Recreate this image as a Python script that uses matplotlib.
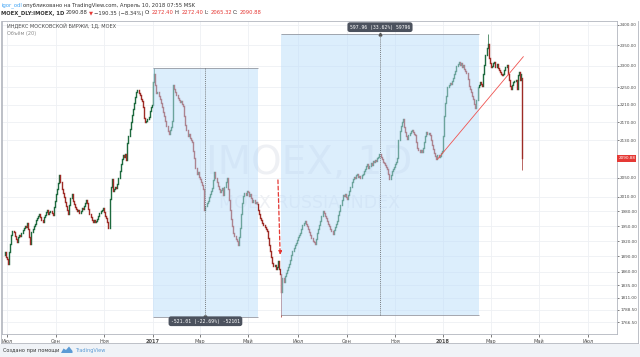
import numpy as np
import matplotlib
matplotlib.use("Agg")
import matplotlib.pyplot as plt
from matplotlib.patches import Rectangle, Polygon
from matplotlib.lines import Line2D
from matplotlib.transforms import blended_transform_factory

# IMOEX daily closes, first bar 28.06.2016, last bar 10.04.2018 (weekdays)
start = "2016-06-28"
closes = [
    1893, 1898, 1889, 1885, 1876, 1898, 1915, 1932, 1941, 1938,
    1930, 1925, 1919, 1928, 1933, 1930, 1937, 1942, 1946, 1951,
    1949, 1957, 1944, 1928, 1914, 1938, 1945, 1950, 1955, 1962,
    1966, 1971, 1975, 1968, 1963, 1959, 1968, 1973, 1979, 1982,
    1974, 1978, 1981, 1976, 1973, 1988, 2001, 2015, 2027, 2038,
    2055, 2040, 2027, 2018, 2010, 2000, 1991, 1982, 1975, 1992,
    2008, 2016, 2002, 1995, 1988, 1984, 1980, 1983, 1976, 1980,
    1986, 1985, 1990, 1996, 2003, 1998, 1985, 1975, 1968, 1963,
    1959, 1962, 1958, 1961, 1965, 1971, 1976, 1980, 1983, 1986,
    1978, 1970, 1966, 1958, 1946, 2005, 2030, 2047, 2022, 2026,
    2031, 2028, 2037, 2050, 2064, 2078, 2090, 2098, 2094, 2101,
    2087, 2125, 2140, 2156, 2170, 2186, 2200, 2214, 2228, 2238,
    2244, 2236, 2231, 2224, 2218, 2205, 2180, 2170, 2174, 2177,
    2183, 2195, 2204, 2210, 2262, 2280, 2255, 2236, 2240, 2229,
    2222, 2213, 2205, 2193, 2184, 2172, 2163, 2150, 2144, 2152,
    2160, 2172, 2255, 2246, 2238, 2231, 2226, 2220, 2215, 2218,
    2212, 2208, 2185, 2165, 2152, 2140, 2145, 2136, 2131, 2126,
    2108, 2091, 2070, 2058, 2062, 2052, 2048, 2040, 2035, 2027,
    1983, 1990, 1996, 2002, 2010, 2016, 2022, 2029, 2045, 2062,
    2050, 2041, 2033, 2026, 2020, 2024, 2029, 2014, 2030, 2041,
    2050, 2027, 2003, 1982, 1965, 1950, 1936, 1930, 1925, 1920,
    1912, 1928, 1947, 1975, 1998, 2012, 2017, 2013, 2022, 2019,
    2011, 2016, 2007, 2000, 2004, 1997, 1999, 1994, 1983, 1975,
    1966, 1962, 1957, 1953, 1948, 1944, 1940, 1926, 1912, 1900,
    1888, 1877, 1871, 1874, 1866, 1869, 1881, 1866, 1856, 1822,
    1848, 1840, 1852, 1858, 1864, 1870, 1876, 1883, 1893, 1900,
    1906, 1912, 1917, 1922, 1928, 1932, 1936, 1945, 1953, 1956,
    1961, 1955, 1950, 1945, 1939, 1933, 1926, 1920, 1918, 1914,
    1925, 1936, 1944, 1952, 1961, 1970, 1980, 1976, 1970, 1966,
    1960, 1955, 1950, 1945, 1940, 1934, 1942, 1949, 1955, 1961,
    1972, 1981, 1992, 2004, 2014, 2011, 2016, 2009, 2006, 2013,
    2022, 2031, 2040, 2048, 2052, 2049, 2055, 2058, 2051, 2054,
    2050, 2055, 2058, 2063, 2069, 2075, 2079, 2071, 2074, 2080,
    2077, 2085, 2083, 2088, 2086, 2092, 2095, 2100, 2094, 2089,
    2083, 2080, 2076, 2072, 2068, 2058, 2048, 2055, 2064, 2068,
    2073, 2079, 2084, 2092, 2132, 2150, 2163, 2170, 2177, 2160,
    2148, 2140, 2133, 2141, 2146, 2150, 2154, 2148, 2145, 2141,
    2127, 2113, 2110, 2105, 2109, 2104, 2113, 2126, 2140, 2149,
    2144, 2147, 2141, 2130, 2120, 2111, 2103, 2096, 2090, 2098,
    2094, 2097, 2102, 2106, 2140, 2185, 2214, 2230, 2251, 2256,
    2260, 2258, 2265, 2272, 2281, 2289, 2300, 2305, 2310, 2303,
    2306, 2298, 2302, 2293, 2288, 2284, 2270, 2254, 2245, 2238,
    2230, 2222, 2212, 2202, 2220, 2250, 2256, 2262, 2258, 2253,
    2280, 2302, 2326, 2344, 2352, 2318, 2306, 2297, 2301, 2306,
    2309, 2297, 2304, 2295, 2290, 2285, 2282, 2279, 2281, 2290,
    2297, 2302, 2280, 2266, 2253, 2246, 2255, 2262, 2264, 2267,
    2246, 2279, 2285, 2266, 2281.23, 2090.88,
]
last_open = 2272.40
wick_highs = {"2017-01-03": 2296.2, "2018-02-26": 2376.5, "2018-04-10": 2272.40}
wick_lows = {"2017-06-12": 1775.2, "2018-04-10": 2065.32}

yticks = [2400, 2350, 2300, 2250, 2210, 2170, 2130, 2050, 2010, 1980,
          1950, 1920, 1890, 1860, 1835, 1811, 1788.5, 1766.5]
month_dates = ["2016-07-01", "2016-09-01", "2016-11-01", "2017-01-01", "2017-03-01",
               "2017-05-01", "2017-07-01", "2017-09-01", "2017-11-01", "2018-01-01",
               "2018-03-01", "2018-05-01", "2018-07-01"]
month_labels = ["Июл", "Сен", "Ноя", "2017", "Мар", "Май", "Июл", "Сен", "Ноя", "2018",
                "Мар", "Май", "Июл"]

# price range measurements
m1_dates = ["2017-01-02", "2017-05-12"]
m1_prices = [2296.2, 1775.2]
m1_text = "-521.01 (-22.69%) -52101"
m2_dates = ["2017-06-12", "2018-02-14"]
m2_prices = [1778.6, 2376.5]
m2_text = "597.96 (33.62%) 59796"

trend_dates = ["2017-12-25", "2018-04-11"]
trend_prices = [2089, 2322]
arrow_dates = ["2017-06-07", "2017-06-09"]
arrow_prices = [2045, 1893]

last_price = 2090.88

W, H = 640, 357


def fx(px):
    return px / W


def fy(py):
    return 1 - py / H


def bar(d):
    return int(np.busday_count(start, d))


fig = plt.figure(figsize=(6.4, 3.57), dpi=100)
fig.patch.set_facecolor("white")
ax = fig.add_axes([fx(2), fy(334), fx(617) - fx(2), fy(21) - fy(334)])

# candles
x = np.arange(len(closes))
c = np.array(closes, dtype=float)
o = np.r_[c[0], c[:-1]]
o[-1] = last_open
up = c >= o
up_col, dn_col = "#1d6a3e", "#9e2b26"
lc = ax.vlines(x[up], o[up], c[up], color=up_col, lw=1.0, zorder=2)
lc.set_capstyle("projecting")
lc = ax.vlines(x[~up], c[~up], o[~up], color=dn_col, lw=1.0, zorder=2)
lc.set_capstyle("projecting")
for d, v in wick_highs.items():
    i = bar(d)
    ax.vlines(i, max(o[i], c[i]), v, color=up_col if up[i] else dn_col, lw=0.5, zorder=2)
for d, v in wick_lows.items():
    i = bar(d)
    ax.vlines(i, v, min(o[i], c[i]), color=up_col if up[i] else dn_col, lw=0.5, zorder=2)

# measurement boxes
for dates, prices, txt in [(m1_dates, m1_prices, m1_text), (m2_dates, m2_prices, m2_text)]:
    x0, x1 = bar(dates[0]), bar(dates[1])
    lo, hi = min(prices), max(prices)
    ax.add_patch(Rectangle((x0, lo), x1 - x0, hi - lo, fc="#bbdefb", alpha=0.5, ec="none", zorder=3))
    ax.hlines([lo, hi], x0, x1, color="#9598a1", lw=0.6, zorder=4)
    xm = (x0 + x1) / 2
    ax.vlines(xm, lo, hi, color="#555555", lw=0.5, linestyles=(0, (1.5, 1.5)), zorder=4)
    if prices[1] < prices[0]:
        ax.plot(xm, lo, marker="v", ms=2, color="#555555", zorder=4)
        ty = lo * np.exp(-4 / 970.5)
    else:
        ax.plot(xm, hi, marker="^", ms=2, color="#555555", zorder=4)
        ty = hi * np.exp(7 / 970.5)
    ax.text(xm, ty, txt, ha="center", va="center", fontsize=3.4, color="white",
            family="DejaVu Sans Mono", zorder=6,
            bbox=dict(boxstyle="round,pad=0.5", fc="#4c525e", ec="none"))

# trend line and arrow
ax.plot([bar(d) for d in trend_dates], trend_prices, color="#ef5350", lw=0.6, zorder=5)
ax.annotate("", xy=(bar(arrow_dates[1]), arrow_prices[1]),
            xytext=(bar(arrow_dates[0]), arrow_prices[0]),
            arrowprops=dict(arrowstyle="-|>", color="#e53935", lw=0.9, linestyle=(0, (3, 2)),
                            mutation_scale=5, shrinkA=0, shrinkB=0), zorder=5)

# watermark
ax.text(0.5, 0.546, "IMOEX, 1D", transform=ax.transAxes, ha="center", va="center",
        fontsize=28, color="#eef0f4", zorder=1)
ax.text(0.5, 0.4185, "MOEX RUSSIA INDEX", transform=ax.transAxes, ha="center", va="center",
        fontsize=12.5, color="#eef0f4", zorder=1)

# axes
ax.set_yscale("log")
ax.set_ylim(1744.8, 2409)
ax.set_xlim(-1.4, 550)
ax.yaxis.tick_right()
ax.set_yticks(yticks)
ax.set_yticklabels(["%.2f" % v for v in yticks])
ax.yaxis.set_minor_locator(matplotlib.ticker.NullLocator())
ax.set_xticks([bar(d) for d in month_dates])
ax.set_xticklabels(month_labels)
for lab in ax.get_xticklabels():
    if lab.get_text() in ("2017", "2018"):
        lab.set_fontweight("bold")
ax.tick_params(axis="x", labelsize=3.6, colors="#4a4a4a", length=2, width=0.5, pad=1.5)
ax.tick_params(axis="y", labelsize=3.0, colors="#4a4a4a", length=1.5, width=0.5, pad=0.8)
ax.grid(True, color="#eef0f4", lw=0.6, zorder=0)
ax.set_axisbelow(True)
for s in ax.spines.values():
    s.set_color("#b2b5be")
    s.set_linewidth(0.6)

# last price label
tr = blended_transform_factory(ax.transAxes, ax.transData)
ax.text(1.002, last_price, "%.2f" % last_price, transform=tr, ha="left", va="center",
        fontsize=3.0, color="white", zorder=7, clip_on=False,
        bbox=dict(boxstyle="square,pad=0.3", fc="#e53935", ec="none"))

# panel frame and footer
fig.add_artist(Line2D([fx(638), fx(638)], [fy(21), fy(343)], color="#b2b5be", lw=0.6))
fig.add_artist(Line2D([fx(1), fx(638)], [fy(343), fy(343)], color="#b2b5be", lw=0.6))
fig.add_artist(Line2D([fx(1), fx(1)], [fy(21), fy(343)], color="#b2b5be", lw=0.6))
fig.patches.append(Rectangle((0, 0), 1, fy(344), transform=fig.transFigure,
                             fc="#f0f3f7", ec="none", zorder=0))

renderer = fig.canvas.get_renderer()


def chain(px, py, parts, size=3.8):
    for s, col, w in parts:
        t = fig.text(fx(px), fy(py), s, color=col, fontsize=size, fontweight=w, va="center")
        px += t.get_window_extent(renderer).width + 1.2


dark, red = "#333333", "#e53935"
chain(1, 5, [("igor_odl", "#42a5f5", "normal"),
             ("опубликовано на TradingView.com, Апрель 10, 2018 07:55 MSK", dark, "normal")])
chain(1, 13, [("MOEX_DLY:IMOEX, 1D", dark, "bold"), ("2090.88", dark, "normal"),
              ("▼", red, "normal"), ("−190.35 (−8.34%)", dark, "normal"),
              ("O:", dark, "normal"), ("2272.40", red, "normal"),
              ("H:", dark, "normal"), ("2272.40", red, "normal"),
              ("L:", dark, "normal"), ("2065.32", red, "normal"),
              ("C:", dark, "normal"), ("2090.88", red, "normal")])
fig.text(fx(7), fy(25.5), "ИНДЕКС МОСКОВСКОЙ БИРЖИ, 1Д, MOEX", fontsize=3.6, color="#4a4a4a", va="center")
fig.text(fx(7), fy(33), "Объём (20)", fontsize=3.6, color="#8a8a8a", va="center")

chain(3, 350.5, [("Создано при помощи", dark, "normal")], size=3.6)
fig.patches.append(Polygon([(fx(61), fy(353)), (fx(63.5), fy(348.5)), (fx(66), fy(350)),
                            (fx(69), fy(346.5)), (fx(72.5), fy(351)), (fx(72.5), fy(353))],
                           closed=True, transform=fig.transFigure, fc="#5b9bd5", ec="none"))
fig.text(fx(75), fy(350.5), "TradingView", fontsize=3.6, color="#5b9bd5", va="center")

fig.savefig("out.png", dpi=100)
